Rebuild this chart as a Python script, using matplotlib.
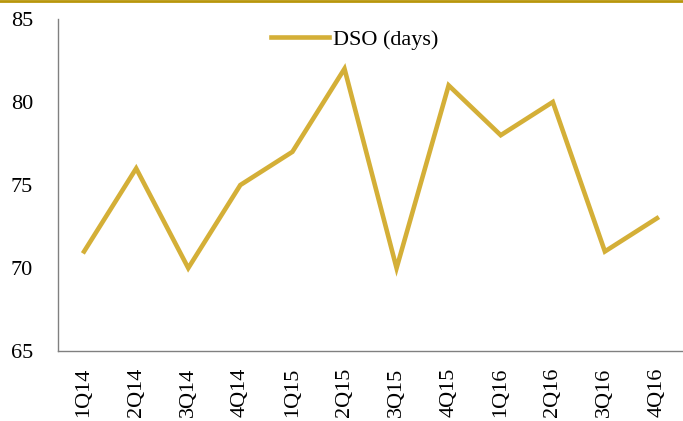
import matplotlib.pyplot as plt
from matplotlib.lines import Line2D

quarters = ["1Q14", "2Q14", "3Q14", "4Q14", "1Q15", "2Q15",
            "3Q15", "4Q15", "1Q16", "2Q16", "3Q16", "4Q16"]
dso_days = [71, 76, 70, 75, 77, 82, 70, 81, 78, 80, 71, 73]

plt.rcParams["font.family"] = ["Liberation Serif", "DejaVu Serif"]

fig = plt.figure(figsize=(6.83, 4.21), dpi=100)
ax = fig.add_axes([0.085, 0.166, 0.915, 0.789])

x = range(len(quarters))
ax.plot(x, dso_days, color="#D4AF37", linewidth=3.3, label="DSO (days)",
        solid_joinstyle="miter")

ax.set_xlim(-0.5, len(quarters) - 0.5)
ax.set_ylim(65, 85)
ax.set_yticks([65, 70, 75, 80, 85])
ax.set_xticks(list(x))
ax.set_xticklabels(quarters, rotation=90)
ax.tick_params(axis="both", length=0, labelsize=16, colors="black")
ax.tick_params(axis="y", pad=18)
ax.tick_params(axis="x", pad=12)

for side in ["top", "right"]:
    ax.spines[side].set_visible(False)
for side in ["left", "bottom"]:
    ax.spines[side].set_color("#808080")
    ax.spines[side].set_linewidth(1)

ax.legend(loc="upper center", bbox_to_anchor=(0.475, 1.03), frameon=False,
          fontsize=16, handlelength=2.6, handletextpad=0.2)

# gold rule along the top edge
fig.add_artist(Line2D([0, 1], [0.998, 0.998], color="#B8960C", linewidth=2,
                      transform=fig.transFigure))

fig.savefig("out.png", dpi=100)
